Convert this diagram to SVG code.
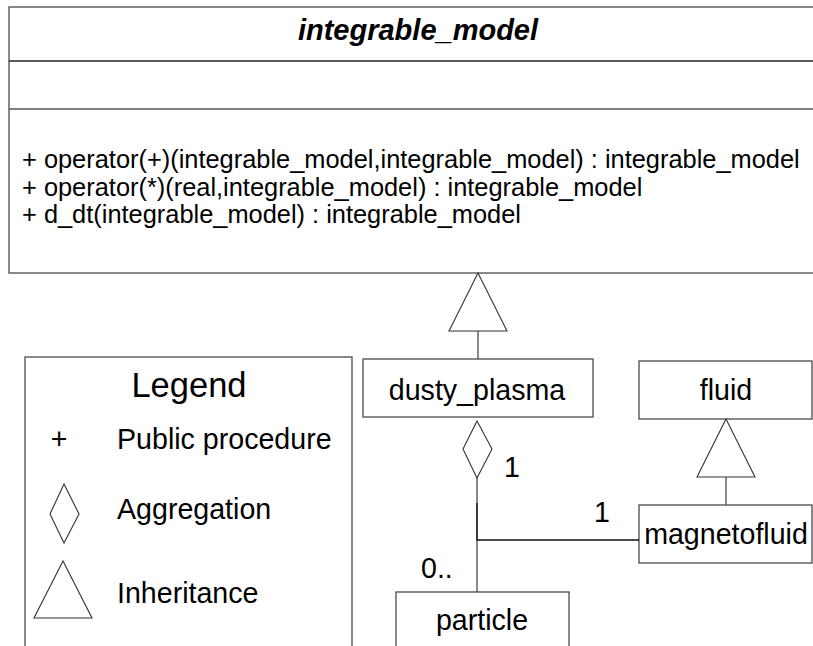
<svg xmlns="http://www.w3.org/2000/svg" width="813" height="646" viewBox="0 0 813 646">
<style>
  .box { fill: #ffffff; stroke: #4a4a4a; stroke-width: 1.3; }
  .ln { fill: none; stroke: #4a4a4a; stroke-width: 1.3; }
  .dk { fill: none; stroke: #111111; stroke-width: 1.3; }
  .sym { fill: #ffffff; stroke: #333333; stroke-width: 1.1; }
  text { font-family: "Liberation Sans", Arial, sans-serif; fill: #000000; }
  .t28 { font-size: 28.6px; }
  .op { font-size: 25.4px; }
  .title { font-size: 29px; font-weight: bold; font-style: italic; }
  .mid { text-anchor: middle; }
</style>
<rect width="813" height="646" fill="#ffffff"/>

<g id="integrable_model">
  <rect class="box" x="9" y="7" width="830" height="266"/>
  <line x1="9" y1="61" x2="813" y2="61" stroke="#222222" stroke-width="1.3"/>
  <line x1="9" y1="109" x2="813" y2="109" stroke="#555555" stroke-width="1.3"/>
  <text class="title mid" x="418" y="40">integrable_model</text>
  <text class="op" x="22" y="168">+ operator(+)(integrable_model,integrable_model) : integrable_model</text>
  <text class="op" x="22" y="196">+ operator(*)(real,integrable_model) : integrable_model</text>
  <text class="op" x="22" y="223">+ d_dt(integrable_model) : integrable_model</text>
</g>

<g id="legend">
  <rect class="box" x="25" y="357" width="327" height="300"/>
  <text class="mid" x="189" y="397" font-size="34.5">Legend</text>
  <text class="t28 mid" x="59" y="449">+</text>
  <text class="t28" x="117" y="449">Public procedure</text>
  <polygon class="sym" points="64,484 79,514 64,543 50,514"/>
  <text class="t28" x="117" y="519">Aggregation</text>
  <polygon class="sym" points="63,561 92,618 34,618"/>
  <text class="t28" x="117" y="603">Inheritance</text>
</g>

<g id="dusty_plasma">
  <rect class="box" x="363" y="359" width="230" height="58"/>
  <text class="t28 mid" x="477" y="400">dusty_plasma</text>
</g>

<g id="fluid">
  <rect class="box" x="639" y="361" width="173" height="58"/>
  <text class="t28 mid" x="726" y="400">fluid</text>
</g>

<g id="magnetofluid">
  <rect class="box" x="639" y="505" width="173" height="58"/>
  <text class="t28 mid" x="726" y="544">magnetofluid</text>
</g>

<g id="particle">
  <rect class="box" x="396" y="592" width="173" height="70"/>
  <text class="t28 mid" x="482" y="630">particle</text>
</g>

<g id="connectors">
  <polygon class="sym" points="478,273 507,331 449,331"/>
  <line class="ln" x1="478" y1="331" x2="478" y2="359"/>
  <polygon class="sym" points="726,419 755,477 697,477"/>
  <line class="ln" x1="726" y1="477" x2="726" y2="505"/>
  <polygon class="sym" points="477,421 492,449 477,478 463,449"/>
  <line class="ln" x1="477" y1="478" x2="477" y2="592"/>
  <polyline class="dk" points="639,540 477,540 477,503"/>
  <text class="t28" x="504" y="477">1</text>
  <text class="t28" x="594" y="522">1</text>
  <text class="t28" x="421" y="578">0..</text>
</g>
</svg>
